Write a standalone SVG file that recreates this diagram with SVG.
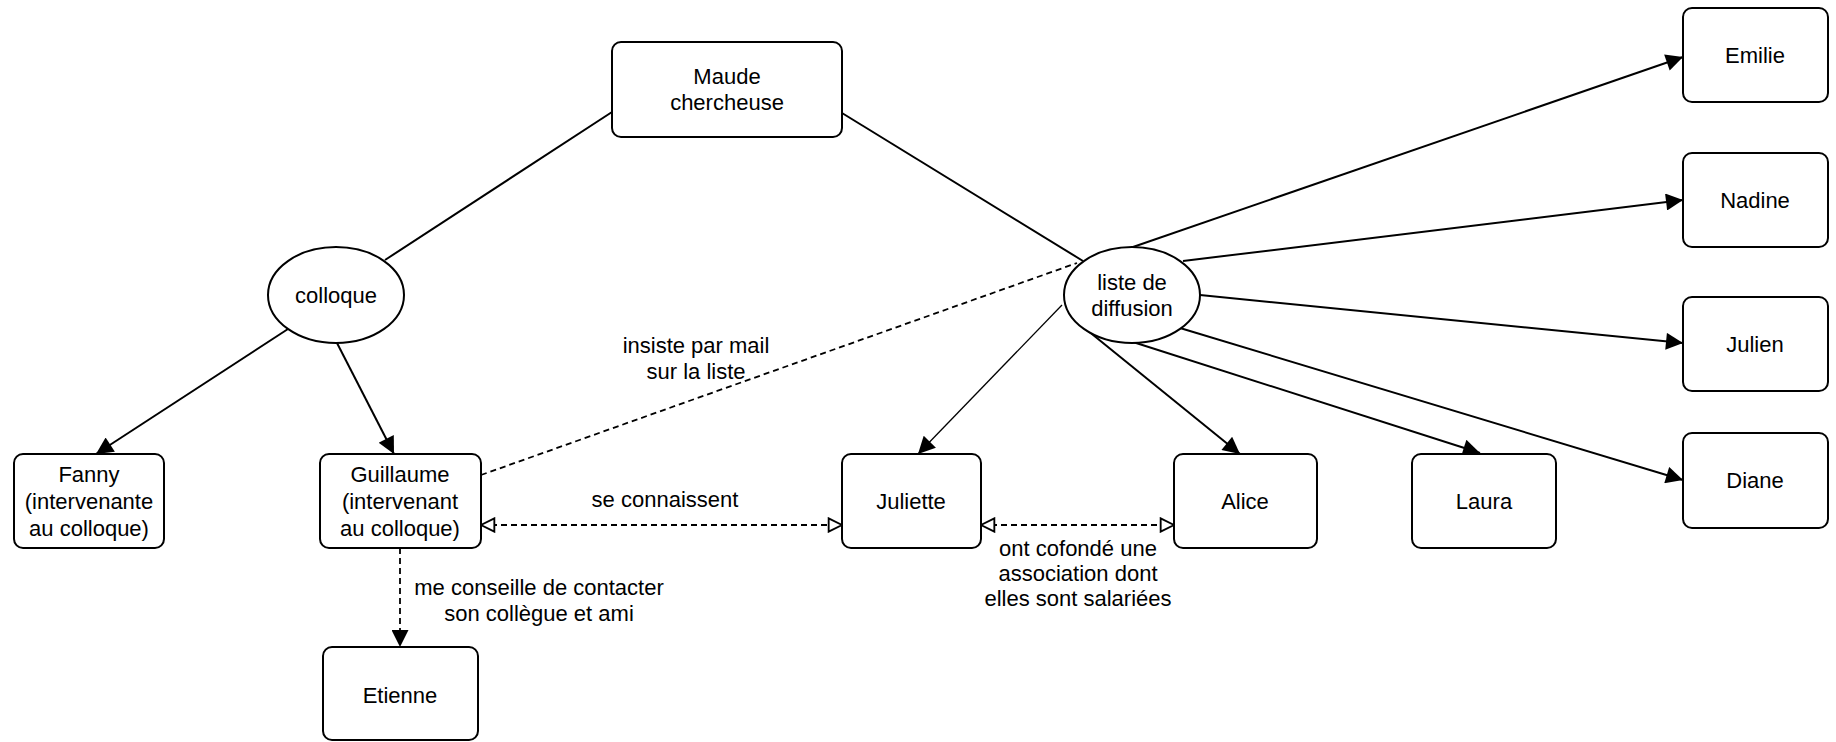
<svg xmlns="http://www.w3.org/2000/svg" width="1836" height="742" viewBox="0 0 1836 742">
<style>
  .box { fill: #ffffff; stroke: #000000; stroke-width: 2; }
  .t { font-family: "Liberation Sans", Arial, Helvetica, sans-serif; font-size: 22px; fill: #000000; text-anchor: middle; }
  .e { fill: none; stroke: #000000; stroke-width: 2; }
  .thin { fill: none; stroke: #000000; stroke-width: 1.3; }
  .dash { fill: none; stroke: #000000; stroke-width: 1.8; stroke-dasharray: 6 4; }
</style>
<defs>
  <marker id="arr" viewBox="0 0 10 10" refX="10" refY="5" markerWidth="20" markerHeight="17" markerUnits="userSpaceOnUse" orient="auto">
    <path d="M0,0 L10,5 L0,10 z" fill="#000000"/>
  </marker>
  <marker id="open" viewBox="0 0 12 12" refX="11" refY="6" markerWidth="16" markerHeight="16" markerUnits="userSpaceOnUse" orient="auto-start-reverse">
    <path d="M1,1 L11,6 L1,11 z" fill="#ffffff" stroke="#000000" stroke-width="1.4"/>
  </marker>
</defs>
<rect width="1836" height="742" fill="#ffffff"/>

<g id="connectors">
  <line class="e" x1="612" y1="112" x2="385" y2="260"/>
  <line class="e" x1="842" y1="113" x2="1083" y2="261"/>
  <line class="e" x1="288" y1="329" x2="96" y2="454" marker-end="url(#arr)"/>
  <line class="e" x1="337" y1="343" x2="394" y2="454" marker-end="url(#arr)"/>
  <line class="dash" x1="400" y1="548" x2="400" y2="647" marker-end="url(#arr)"/>
  <line class="dash" x1="481" y1="525" x2="842" y2="525" marker-start="url(#open)" marker-end="url(#open)"/>
  <line class="dash" x1="981" y1="525" x2="1174" y2="525" marker-start="url(#open)" marker-end="url(#open)"/>
  <line class="dash" x1="481" y1="475" x2="1077" y2="263"/>
  <line class="e" x1="1133" y1="247" x2="1683" y2="57" marker-end="url(#arr)"/>
  <line class="e" x1="1183" y1="261" x2="1683" y2="200" marker-end="url(#arr)"/>
  <line class="e" x1="1200" y1="295" x2="1683" y2="343" marker-end="url(#arr)"/>
  <line class="e" x1="1180" y1="328" x2="1683" y2="480" marker-end="url(#arr)"/>
  <line class="e" x1="1133" y1="342" x2="1480" y2="453" marker-end="url(#arr)"/>
  <line class="e" x1="1087" y1="330" x2="1240" y2="454" marker-end="url(#arr)"/>
  <line class="thin" x1="1062" y1="305" x2="918" y2="454" marker-end="url(#arr)"/>
  <text class="t" x="696" y="353">insiste par mail</text>
  <text class="t" x="696" y="379">sur la liste</text>
  <text class="t" x="665" y="507">se connaissent</text>
  <text class="t" x="539" y="595">me conseille de contacter</text>
  <text class="t" x="539" y="621">son collègue et ami</text>
  <text class="t" x="1078" y="556">ont cofondé une</text>
  <text class="t" x="1078" y="581">association dont</text>
  <text class="t" x="1078" y="606">elles sont salariées</text>
</g>

<g id="maude">
  <rect class="box" x="612" y="42" width="230" height="95" rx="9"/>
  <text class="t" x="727" y="84">Maude</text>
  <text class="t" x="727" y="110">chercheuse</text>
</g>
<g id="colloque">
  <ellipse class="box" cx="336" cy="295" rx="68" ry="48"/>
  <text class="t" x="336" y="303">colloque</text>
</g>
<g id="liste">
  <ellipse class="box" cx="1132" cy="295" rx="68" ry="48"/>
  <text class="t" x="1132" y="290">liste de</text>
  <text class="t" x="1132" y="316">diffusion</text>
</g>
<g id="fanny">
  <rect class="box" x="14" y="454" width="150" height="94" rx="9"/>
  <text class="t" x="89" y="482">Fanny</text>
  <text class="t" x="89" y="509">(intervenante</text>
  <text class="t" x="89" y="536">au colloque)</text>
</g>
<g id="guillaume">
  <rect class="box" x="320" y="454" width="161" height="94" rx="9"/>
  <text class="t" x="400" y="482">Guillaume</text>
  <text class="t" x="400" y="509">(intervenant</text>
  <text class="t" x="400" y="536">au colloque)</text>
</g>
<g id="etienne">
  <rect class="box" x="323" y="647" width="155" height="93" rx="9"/>
  <text class="t" x="400" y="703">Etienne</text>
</g>
<g id="juliette">
  <rect class="box" x="842" y="454" width="139" height="94" rx="9"/>
  <text class="t" x="911" y="509">Juliette</text>
</g>
<g id="alice">
  <rect class="box" x="1174" y="454" width="143" height="94" rx="9"/>
  <text class="t" x="1245" y="509">Alice</text>
</g>
<g id="laura">
  <rect class="box" x="1412" y="454" width="144" height="94" rx="9"/>
  <text class="t" x="1484" y="509">Laura</text>
</g>
<g id="emilie">
  <rect class="box" x="1683" y="8" width="145" height="94" rx="9"/>
  <text class="t" x="1755" y="63">Emilie</text>
</g>
<g id="nadine">
  <rect class="box" x="1683" y="153" width="145" height="94" rx="9"/>
  <text class="t" x="1755" y="208">Nadine</text>
</g>
<g id="julien">
  <rect class="box" x="1683" y="297" width="145" height="94" rx="9"/>
  <text class="t" x="1755" y="352">Julien</text>
</g>
<g id="diane">
  <rect class="box" x="1683" y="433" width="145" height="95" rx="9"/>
  <text class="t" x="1755" y="488">Diane</text>
</g>
</svg>
